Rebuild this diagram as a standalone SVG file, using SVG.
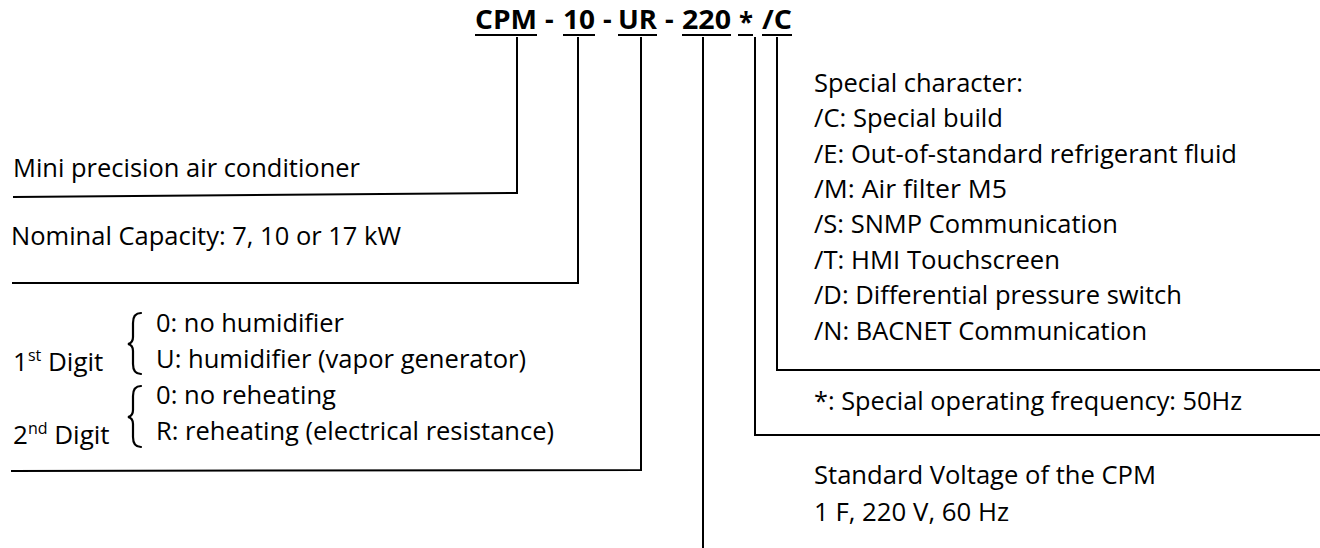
<svg xmlns="http://www.w3.org/2000/svg" width="1320" height="548" viewBox="0 0 1320 548">
<style>
text{font-family:"Open Sans","Liberation Sans",sans-serif;font-size:26px;fill:#000}
.t{font-weight:bold;font-size:27px}
.ln{stroke:#000;stroke-width:2;fill:none}
.br{stroke:#000;stroke-width:2.2;fill:none;stroke-linecap:round}
.ul{stroke:#000;stroke-width:2}
.sup{font-size:16px}
</style>
<rect width="1320" height="548" fill="#fff"/>
<g id="title">
<text class="t" x="475" y="29" textLength="62" lengthAdjust="spacingAndGlyphs">CPM</text>
<text class="t" x="545" y="29">-</text>
<text class="t" x="563" y="29" textLength="32" lengthAdjust="spacingAndGlyphs">10</text>
<text class="t" x="603" y="29">-</text>
<text class="t" x="618" y="29" textLength="39" lengthAdjust="spacingAndGlyphs">UR</text>
<text class="t" x="665" y="29">-</text>
<text class="t" x="682" y="29" textLength="49" lengthAdjust="spacingAndGlyphs">220</text>
<text class="t" x="739" y="31" textLength="14" lengthAdjust="spacingAndGlyphs">*</text>
<text class="t" x="762" y="29" textLength="30" lengthAdjust="spacingAndGlyphs">/C</text>
<line class="ul" x1="475" y1="35" x2="537" y2="35"/>
<line class="ul" x1="563" y1="35" x2="595" y2="35"/>
<line class="ul" x1="618" y1="35" x2="657" y2="35"/>
<line class="ul" x1="682" y1="35" x2="731" y2="35"/>
<line class="ul" x1="738" y1="35" x2="753" y2="35"/>
<line class="ul" x1="762" y1="35" x2="792" y2="35"/>
</g>
<g id="connectors">
<polyline class="ln" points="517,37 517,193 13,197"/>
<polyline class="ln" points="578,37 578,283 12,283"/>
<polyline class="ln" points="641,37 641,470 11,471"/>
<line class="ln" x1="703" y1="37" x2="703" y2="548"/>
<polyline class="ln" points="755,37 755,435 1320,435"/>
<polyline class="ln" points="777,37 777,370 1320,370"/>
</g>
<g id="node-cpm">
<text x="13" y="177" textLength="347" lengthAdjust="spacingAndGlyphs">Mini precision air conditioner</text>
</g>
<g id="node-capacity">
<text x="11" y="245" textLength="390" lengthAdjust="spacingAndGlyphs">Nominal Capacity: 7, 10 or 17 kW</text>
</g>
<g id="node-digits">
<text x="13" y="371">1<tspan class="sup" dy="-10">st</tspan><tspan dy="10"> Digit</tspan></text>
<path class="br" d="M141,313 Q133,313 133,323 L133,337 Q133,343 128,344 Q133,345 133,351 L133,364 Q133,374 141,374"/>
<text x="156" y="332" textLength="188" lengthAdjust="spacingAndGlyphs">0: no humidifier</text>
<text x="156" y="368" textLength="370" lengthAdjust="spacingAndGlyphs">U: humidifier (vapor generator)</text>
<text x="13" y="444">2<tspan class="sup" dy="-10">nd</tspan><tspan dy="10"> Digit</tspan></text>
<path class="br" d="M141,386 Q133,386 133,396 L133,410 Q133,416 128,417 Q133,418 133,424 L133,437 Q133,447 141,447"/>
<text x="156" y="404" textLength="180" lengthAdjust="spacingAndGlyphs">0: no reheating</text>
<text x="156" y="440" textLength="398" lengthAdjust="spacingAndGlyphs">R: reheating (electrical resistance)</text>
</g>
<g id="node-special">
<text x="814" y="92" textLength="209" lengthAdjust="spacingAndGlyphs">Special character:</text>
<text x="814" y="127" textLength="189" lengthAdjust="spacingAndGlyphs">/C: Special build</text>
<text x="814" y="163" textLength="423" lengthAdjust="spacingAndGlyphs">/E: Out-of-standard refrigerant fluid</text>
<text x="814" y="198" textLength="193" lengthAdjust="spacingAndGlyphs">/M: Air filter M5</text>
<text x="814" y="233" textLength="304" lengthAdjust="spacingAndGlyphs">/S: SNMP Communication</text>
<text x="814" y="269" textLength="246" lengthAdjust="spacingAndGlyphs">/T: HMI Touchscreen</text>
<text x="814" y="304" textLength="368" lengthAdjust="spacingAndGlyphs">/D: Differential pressure switch</text>
<text x="814" y="340" textLength="333" lengthAdjust="spacingAndGlyphs">/N: BACNET Communication</text>
</g>
<g id="node-frequency">
<text x="814" y="410" textLength="428" lengthAdjust="spacingAndGlyphs">*: Special operating frequency: 50Hz</text>
</g>
<g id="node-voltage">
<text x="814" y="484" textLength="342" lengthAdjust="spacingAndGlyphs">Standard Voltage of the CPM</text>
<text x="814" y="521" textLength="195" lengthAdjust="spacingAndGlyphs">1 F, 220 V, 60 Hz</text>
</g>
</svg>
